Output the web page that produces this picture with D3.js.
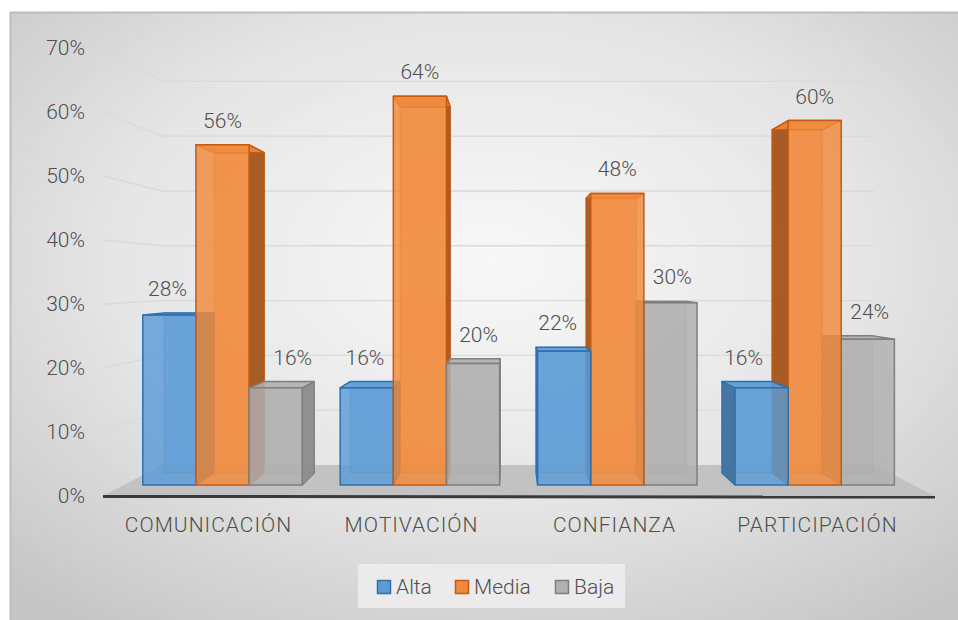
<!DOCTYPE html>
<html>
<head>
<meta charset="utf-8">
<script src="https://cdn.jsdelivr.net/npm/d3@7"></script>
<style>
  html, body { margin: 0; padding: 0; background: #fff; }
  svg text { font-family: Roboto, "Noto Sans", sans-serif; font-weight: 300; fill: #4f4f4f; }
</style>
</head>
<body>
<svg id="chart" width="958" height="620"></svg>
<script>
(function () {
  'use strict';

  const categories = ['COMUNICACIÓN', 'MOTIVACIÓN', 'CONFIANZA', 'PARTICIPACIÓN'];
  const seriesNames = ['Alta', 'Media', 'Baja'];
  const alta = [0.28, 0.16, 0.22, 0.16];
  const media = [0.56, 0.64, 0.48, 0.60];
  const baja = [0.16, 0.20, 0.30, 0.24];
  const yTicks = [0, 0.1, 0.2, 0.3, 0.4, 0.5, 0.6, 0.7];

  const seriesValues = [alta, media, baja];
  const colors = {
    Alta:  { face: '#5b9bd5', stroke: '#2f6fae', side: '#3c6e9c' },
    Media: { face: '#f08a3c', stroke: '#c55a11', side: '#a0521c' },
    Baja:  { face: '#b0b0b0', stroke: '#7f7f7f', side: '#8a8a8a' }
  };

  const svg = d3.select('#chart');

  // background with soft radial gradient
  const defs = svg.append('defs');
  const grad = defs.append('radialGradient').attr('id', 'bg')
    .attr('cx', '50%').attr('cy', '40%').attr('r', '72%');
  grad.append('stop').attr('offset', '0%').attr('stop-color', '#f8f8f8');
  grad.append('stop').attr('offset', '55%').attr('stop-color', '#e5e5e5');
  grad.append('stop').attr('offset', '100%').attr('stop-color', '#c6c6c6');

  svg.append('rect')
    .attr('x', 10.5).attr('y', 12.5).attr('width', 960).attr('height', 620)
    .attr('fill', 'url(#bg)').attr('stroke', '#bdbdbd').attr('stroke-width', 2);

  // front plane scales; depth handled with a simple perspective toward (vx, vy)
  const x = d3.scaleBand().domain(categories).range([103, 935]);
  const xs = d3.scaleBand().domain(seriesNames).range([0, x.bandwidth()])
    .paddingInner(0).paddingOuter(0.357);
  const y = d3.scaleLinear().domain([0, 0.7]).range([496, 48]);

  const vx = 511, vy = 280;
  const sWall = 0.856, sBarFront = 0.949, sBarBack = 0.894;
  const proj = (X, Y, s) => [vx + (X - vx) * s, vy + (Y - vy) * s];
  const poly = d3.line();

  // floor
  const x0 = x.range()[0], x1 = x.range()[1];
  svg.append('path')
    .attr('d', poly([proj(x0, y(0), 1), proj(x1, y(0), 1), proj(x1, y(0), sWall), proj(x0, y(0), sWall)]) + 'Z')
    .attr('fill', '#c2c2c2');

  // gridlines on back and left walls
  const grid = svg.append('g').attr('fill', 'none').attr('stroke', '#d9d9d9').attr('stroke-width', 1.3);
  yTicks.filter(t => t > 0).forEach(t => {
    grid.append('path').attr('d', poly([proj(x0, y(t), 1), proj(x0, y(t), sWall), proj(x1, y(t), sWall)]));
  });

  // y axis labels
  const yAxis = d3.axisLeft(y).tickValues(yTicks).tickSize(0).tickPadding(0)
    .tickFormat(d3.format('.0%'));
  svg.append('g').attr('transform', 'translate(85,0)').call(yAxis)
    .call(g => g.select('.domain').remove())
    .selectAll('text').style('font-size', '21px').attr('fill', '#4f4f4f')
    .style('font-family', 'Roboto, sans-serif').style('font-weight', 300);

  // bars
  const bars = [];
  categories.forEach((c, ci) => {
    seriesNames.forEach((sn, si) => {
      const bx0 = x(c) + xs(sn), bx1 = bx0 + xs.bandwidth();
      bars.push({ c, ci, sn, si, v: seriesValues[si][ci], bx0, bx1 });
    });
  });
  bars.forEach(b => {
    const Yt = y(b.v), Yb = y(0);
    b.front = [proj(b.bx0, Yt, sBarFront), proj(b.bx1, Yt, sBarFront), proj(b.bx1, Yb, sBarFront), proj(b.bx0, Yb, sBarFront)];
    b.back = [proj(b.bx0, Yt, sBarBack), proj(b.bx1, Yt, sBarBack), proj(b.bx1, Yb, sBarBack), proj(b.bx0, Yb, sBarBack)];
    b.top = [b.front[0], b.front[1], b.back[1], b.back[0]];
    b.right = [b.front[1], b.back[1], b.back[2], b.front[2]];
    b.left = [b.front[0], b.back[0], b.back[3], b.front[3]];
    const all = b.front.concat(b.back);
    b.minX = d3.min(all, p => p[0]); b.maxX = d3.max(all, p => p[0]);
    b.minY = d3.min(all, p => p[1]);
    b.dist = Math.abs((b.bx0 + b.bx1) / 2 - vx);
  });

  const barLayer = svg.append('g');
  bars.slice().sort((a, b) => b.dist - a.dist).forEach(b => {
    const col = colors[b.sn];
    const g = barLayer.append('g').attr('stroke-linejoin', 'round');
    g.append('path').attr('d', poly(b.back) + 'Z')
      .attr('fill', col.face).attr('fill-opacity', 0.5)
      .attr('stroke', col.stroke).attr('stroke-opacity', 0.45).attr('stroke-width', 1.2);
    if (b.bx1 < vx) {
      g.append('path').attr('d', poly(b.right) + 'Z')
        .attr('fill', col.side).attr('fill-opacity', 0.9)
        .attr('stroke', col.stroke).attr('stroke-width', 1.2);
    }
    if (b.bx0 > vx) {
      g.append('path').attr('d', poly(b.left) + 'Z')
        .attr('fill', col.side).attr('fill-opacity', 0.9)
        .attr('stroke', col.stroke).attr('stroke-width', 1.2);
    }
    g.append('path').attr('d', poly(b.top) + 'Z')
      .attr('fill', col.face).attr('fill-opacity', 0.85)
      .attr('stroke', col.stroke).attr('stroke-width', 1.5);
    g.append('path').attr('d', poly(b.front) + 'Z')
      .attr('fill', col.face).attr('fill-opacity', 0.82)
      .attr('stroke', col.stroke).attr('stroke-width', 1.5);
  });

  // axis line
  svg.append('line')
    .attr('x1', x0).attr('x2', x1).attr('y1', y(0) + 0.5).attr('y2', y(0) + 1)
    .attr('stroke', '#3a3a3a').attr('stroke-width', 3);

  // data labels, nudged sideways off a taller neighbour
  const fmt = d3.format('.0%');
  const labels = svg.append('g').style('font-size', '21px').attr('text-anchor', 'middle');
  bars.forEach(b => {
    let cx = (b.front[0][0] + b.front[1][0]) / 2;
    const cy = b.minY - 24;
    const t = labels.append('text').attr('x', cx).attr('y', cy)
      .attr('dominant-baseline', 'central').text(fmt(b.v));
    const w = t.node().getComputedTextLength();
    bars.filter(o => o.ci === b.ci && Math.abs(o.si - b.si) === 1 && o.minY < cy + 9).forEach(o => {
      const m = 9;
      if (o.si > b.si && cx + w / 2 > o.minX - m) cx = o.minX - m - w / 2;
      if (o.si < b.si && cx - w / 2 < o.maxX + m) cx = o.maxX + m + w / 2;
    });
    t.attr('x', cx);
  });

  // category axis
  const xLab = d3.scaleBand().domain(categories).range([107, 919]);
  svg.append('g').attr('transform', 'translate(0,517)')
    .call(d3.axisBottom(xLab).tickSize(0).tickPadding(0))
    .call(g => g.select('.domain').remove())
    .selectAll('text').style('font-size', '21px').attr('fill', '#4f4f4f')
    .style('letter-spacing', '1px')
    .style('font-family', 'Roboto, sans-serif').style('font-weight', 300);

  // legend
  const legend = svg.append('g');
  legend.append('rect').attr('x', 358).attr('y', 564).attr('width', 267).attr('height', 44)
    .attr('fill', '#ebebeb');
  const legX = d3.scaleOrdinal().domain(seriesNames).range([377, 455, 555]);
  seriesNames.forEach(sn => {
    const gi = legend.append('g').attr('transform', `translate(${legX(sn)},580)`);
    gi.append('rect').attr('x', 0.5).attr('y', 0.5).attr('width', 13).attr('height', 13)
      .attr('fill', colors[sn].face).attr('stroke', colors[sn].stroke).attr('stroke-width', 1.5);
    gi.append('text').attr('x', 19).attr('y', 7).attr('dominant-baseline', 'central')
      .style('font-size', '21px').text(sn);
  });
}());
</script>
</body>
</html>
